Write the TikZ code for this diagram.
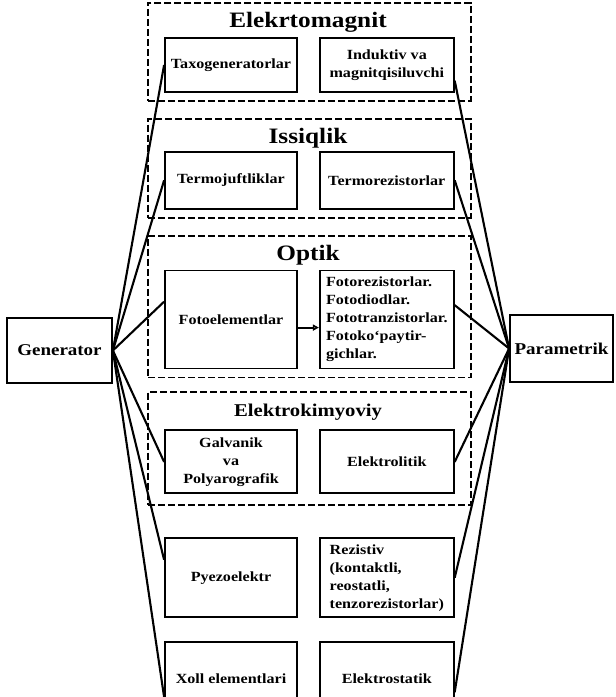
\documentclass[tikz,border=0pt]{standalone}
\usepackage{fontspec}
\setmainfont{Liberation Serif}[FakeStretch=1.15]
\usetikzlibrary{arrows.meta,positioning,fit}

\begin{document}
\begin{tikzpicture}[
  x=1pt,y=1pt,
  sensorbox/.style={
    draw,
    line width=1.8pt,
    minimum height=54pt,
    align=center,
    inner xsep=3pt,
    font=\fontsize{14}{18}\selectfont\bfseries
  },
  leftbox/.style={sensorbox,minimum width=132pt},
  rightbox/.style={sensorbox,minimum width=134pt},
  endbox/.style={
    draw,
    line width=1.8pt,
    font=\fontsize{16.5}{20}\selectfont\bfseries
  },
  grouptitle/.style={inner sep=1pt,font=\fontsize{22}{24}\selectfont\bfseries},
  groupframe/.style={
    draw,
    line width=1.8pt,
    dash pattern=on 7pt off 3pt,
    inner xsep=16pt,
    inner ysep=8pt
  },
  link/.style={line width=2.1pt},
  arrow/.style={-{Triangle[open,length=6pt,width=6pt]},line width=2pt}
]
  \useasboundingbox (0,0) rectangle (616,697);
  \clip (0,0) rectangle (616,697);

  \node[endbox,minimum width=105pt,minimum height=65pt] (generator) at (59.5,346.5)
    {Generator};
  \node[endbox,minimum width=103pt,minimum height=67pt] (parametrik) at (561.5,348.5)
    {Parametrik};

  % Elektromagnit
  \node[grouptitle] (emtitle) at (308,675) {Elekrtomagnit};
  \node[leftbox] (taxo) at (231,632)
    {Taxogeneratorlar};
  \node[rightbox,right=21pt of taxo] (induktiv)
    {Induktiv va\\magnitqisiluvchi};

  % Issiqlik
  \node[grouptitle] (issiqtitle) at (308,559) {Issiqlik};
  \node[leftbox,minimum height=57pt,below=58pt of taxo] (termojuft)
    {Termojuftliklar};
  \node[rightbox,minimum height=57pt,right=21pt of termojuft] (termorez)
    {Termorezistorlar};

  % Optik
  \node[grouptitle] (optiktitle) at (308,442) {Optik};
  \node[leftbox,minimum height=98pt,below=60pt of termojuft] (fotoel)
    {Fotoelementlar};
  \node[rightbox,minimum height=98pt,align=left,right=21pt of fotoel] (fotorez)
    {Fotorezistorlar.\\Fotodiodlar.\\Fototranzistorlar.\\Fotoko‘paytir-\\gichlar.};

  % Elektrokimyoviy
  \node[grouptitle,font=\fontsize{18}{20}\selectfont\bfseries] (kimyotitle) at (308,285)
    {Elektrokimyoviy};
  \node[leftbox,minimum height=63pt,below=60pt of fotoel] (galvanik)
    {Galvanik\\va\\Polyarografik};
  \node[rightbox,minimum height=63pt,right=21pt of galvanik] (elektrolit)
    {Elektrolitik};

  \node[leftbox,minimum height=79pt,below=43pt of galvanik] (pyezo)
    {Pyezoelektr};
  \node[rightbox,minimum height=79pt,align=left,right=21pt of pyezo] (rezistiv)
    {Rezistiv\\(kontaktli,\\reostatli,\\tenzorezistorlar)};

  \node[leftbox,minimum height=74pt,below=23pt of pyezo] (xoll)
    {Xoll elementlari};
  \node[rightbox,minimum height=74pt,right=21pt of xoll] (elektrostat)
    {Elektrostatik};

  \node[groupframe,fit=(emtitle)(taxo)(induktiv)] (emgroup) {};
  \node[groupframe,fit=(issiqtitle)(termojuft)(termorez)] (issiqgroup) {};
  \node[groupframe,fit=(optiktitle)(fotoel)(fotorez)] (optikgroup) {};
  \node[groupframe,inner ysep=11pt,fit=(kimyotitle)(galvanik)(elektrolit)] (kimyogroup) {};

  \draw[arrow] ([yshift=-8pt]fotoel.east) -- ([yshift=-8pt]fotoel.east -| fotorez.west);

  \draw[link] (generator.east) -- (taxo.west);
  \draw[link] (generator.east) -- (termojuft.west);
  \draw[link] (generator.east) -- (fotoel.165);
  \draw[link] (generator.east) -- (galvanik.west);
  \draw[link] (generator.east) -- (pyezo.165);
  \draw[link] (generator.east) -- (xoll.195);

  \draw[link] (parametrik.west) -- (induktiv.347);
  \draw[link] (parametrik.west) -- (termorez.east);
  \draw[link] (parametrik.west) -- (fotorez.12);
  \draw[link] (parametrik.west) -- (elektrolit.east);
  \draw[link] (parametrik.west) -- (rezistiv.east);
  \draw[link] (parametrik.west) -- (elektrostat.349);
\end{tikzpicture}
\end{document}
